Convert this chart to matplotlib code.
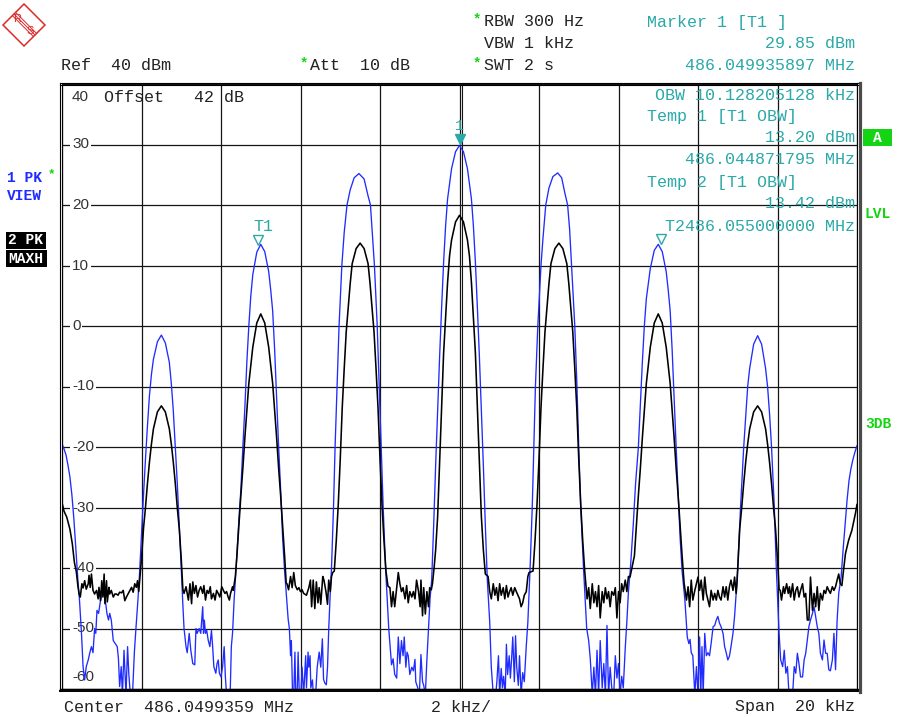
import matplotlib
matplotlib.use("Agg")
import matplotlib.pyplot as plt
import matplotlib.transforms as mtrans
from matplotlib.lines import Line2D
from matplotlib.patches import Rectangle, Polygon

W, H = 900, 717

# analyser settings
center_text = "Center  486.0499359 MHz"
span_text = "Span  20 kHz"
div_text = "2 kHz/"
span_khz = 20
db_ticks = [40, 30, 20, 10, 0, -10, -20, -30, -40, -50, -60]
khz_grid = [-10, -8, -6, -4, -2, 0, 2, 4, 6, 8, 10]
marker_line_khz = 0.06

marker1 = (0.0, 29.85)
temp1 = (-5.064, 13.20)
temp2 = (5.064, 13.42)

header_mid = [("RBW 300 Hz", 22), ("VBW 1 kHz", 44), ("SWT 2 s", 66)]
marker_lines = [
    ("Marker 1 [T1 ]", "left", 22),
    ("29.85 dBm", "right", 44),
    ("486.049935897 MHz", "right", 66),
    ("OBW 10.128205128 kHz", "right", 96),
    ("Temp 1 [T1 OBW]", "left", 117),
    ("13.20 dBm", "right", 138),
    ("486.044871795 MHz", "right", 160),
    ("Temp 2 [T1 OBW]", "left", 182),
    ("13.42 dBm", "right", 203),
    ("T2486.055000000 MHz", "right", 226),
]

# trace 1 (1 PK VIEW, blue): (kHz from center, dBm)
blue_trace = [
    (-10.0, -19.5), (-9.95, -20.3), (-9.9, -21.3), (-9.85, -23.0), (-9.8, -25.0),
    (-9.75, -28.0), (-9.7, -32.0), (-9.65, -37.0), (-9.6, -42.0), (-9.56, -45.3),
    (-9.51, -50.8), (-9.47, -56.3),
    (-9.43, -58.5), (-9.39, -56.3), (-9.34, -55.2), (-9.3, -54.0), (-9.26, -53.0),
    (-9.22, -54.0), (-9.18, -50.0), (-9.15, -50.8), (-9.12, -47.0), (-9.08, -47.5),
    (-9.03, -45.3), (-8.99, -44.2), (-8.95, -43.7), (-8.91, -45.3), (-8.87, -47.5),
    (-8.83, -48.6), (-8.8, -47.5), (-8.76, -48.6), (-8.71, -52.0), (-8.66, -52.5),
    (-8.61, -53.0), (-8.58, -55.0), (-8.55, -59.6), (-8.51, -56.3), (-8.48, -61.0),
    (-8.44, -53.6), (-8.39, -61.0), (-8.35, -53.0), (-8.32, -57.4), (-8.28, -61.0),
    (-8.23, -61.5), (-8.18, -54.0), (-8.14, -50.0), (-8.09, -45.3),
    (-8.05, -41.0), (-8.0, -34.5), (-7.95, -28.0), (-7.9, -22.0), (-7.85, -16.5),
    (-7.8, -11.5), (-7.75, -8.0), (-7.7, -5.5), (-7.6, -2.6), (-7.5, -1.5),
    (-7.4, -2.8), (-7.3, -6.0), (-7.25, -9.5), (-7.2, -14.0), (-7.15, -20.0),
    (-7.1, -26.0), (-7.05, -33.0), (-7.0, -40.0), (-6.96, -46.0),
    (-6.93, -50.0), (-6.88, -53.0), (-6.85, -54.0), (-6.8, -50.8), (-6.76, -53.6),
    (-6.71, -55.8), (-6.66, -56.0), (-6.63, -50.0), (-6.6, -50.8), (-6.55, -50.0),
    (-6.51, -50.8), (-6.46, -46.4), (-6.44, -50.8), (-6.42, -48.6), (-6.39, -50.8),
    (-6.36, -50.3), (-6.32, -52.0), (-6.28, -53.0), (-6.24, -50.3), (-6.21, -53.0),
    (-6.18, -56.3), (-6.13, -57.4), (-6.1, -55.8), (-6.07, -55.2), (-6.04, -57.4),
    (-6.0, -58.0), (-5.96, -56.3), (-5.92, -53.0), (-5.89, -58.0), (-5.86, -61.0),
    (-5.81, -61.0), (-5.77, -61.0), (-5.74, -53.0), (-5.71, -50.8), (-5.67, -45.3),
    (-5.62, -40.0), (-5.55, -32.0), (-5.5, -27.0), (-5.45, -20.0), (-5.4, -13.5),
    (-5.35, -6.0), (-5.3, 0.0), (-5.25, 5.0), (-5.2, 8.5), (-5.1, 12.2),
    (-5.0, 13.5), (-4.9, 12.3), (-4.8, 9.0), (-4.75, 6.0), (-4.7, 2.5),
    (-4.65, -4.0), (-4.6, -12.0), (-4.55, -20.0), (-4.5, -27.0), (-4.45, -35.0),
    (-4.4, -40.5), (-4.35, -45.0), (-4.31, -48.5),
    (-4.28, -50.0), (-4.25, -54.5), (-4.23, -52.0), (-4.2, -61.0), (-4.17, -61.0),
    (-4.14, -53.9), (-4.12, -61.0), (-4.08, -59.8), (-4.06, -53.9), (-4.03, -61.0),
    (-3.99, -61.0), (-3.96, -56.4), (-3.92, -61.0), (-3.87, -54.5), (-3.85, -59.8),
    (-3.81, -53.9), (-3.79, -56.4), (-3.76, -54.5), (-3.74, -59.8), (-3.7, -58.5),
    (-3.68, -60.5), (-3.62, -61.0), (-3.58, -56.4), (-3.53, -53.9), (-3.49, -56.4),
    (-3.45, -51.7), (-3.42, -58.4), (-3.39, -59.0), (-3.35, -59.3), (-3.32, -56.4),
    (-3.29, -50.1), (-3.25, -43.9),
    (-3.22, -40.0), (-3.17, -30.0), (-3.13, -20.0), (-3.08, -10.0), (-3.03, 0.0),
    (-2.96, 10.0), (-2.9, 15.5), (-2.83, 20.0), (-2.75, 22.5), (-2.65, 24.5),
    (-2.53, 25.2), (-2.4, 24.3), (-2.3, 21.5), (-2.24, 20.0), (-2.18, 14.0),
    (-2.14, 10.0), (-2.07, 0.0), (-2.02, -10.0), (-1.97, -20.0), (-1.92, -30.0),
    (-1.86, -40.0), (-1.78, -50.0),
    (-1.71, -56.0), (-1.67, -55.0), (-1.63, -57.6), (-1.58, -58.2), (-1.54, -51.4),
    (-1.5, -55.8), (-1.46, -52.0), (-1.42, -54.5), (-1.39, -51.4), (-1.35, -56.4),
    (-1.32, -53.9), (-1.29, -54.5), (-1.25, -57.6), (-1.2, -56.4), (-1.16, -57.0),
    (-1.12, -55.1), (-1.1, -58.8), (-1.05, -59.8), (-1.01, -61.0), (-0.97, -54.3),
    (-0.93, -58.8), (-0.9, -59.4), (-0.86, -61.0), (-0.82, -55.1), (-0.78, -50.1),
    (-0.74, -45.0),
    (-0.7, -42.0), (-0.65, -33.0), (-0.6, -23.0), (-0.55, -14.0), (-0.5, -5.0),
    (-0.45, 3.0), (-0.4, 10.5), (-0.35, 16.5), (-0.3, 21.0), (-0.2, 26.0),
    (-0.1, 28.8), (0.0, 29.85), (0.1, 28.8), (0.2, 26.0), (0.3, 21.0),
    (0.35, 16.5), (0.4, 10.5), (0.45, 3.0), (0.5, -5.0), (0.55, -14.0),
    (0.6, -23.0), (0.65, -33.0), (0.7, -42.0), (0.76, -48.9),
    (0.8, -56.4), (0.85, -61.0), (0.91, -61.0), (0.94, -58.8), (0.98, -54.5),
    (1.01, -61.0), (1.05, -56.6), (1.08, -59.8), (1.11, -57.9), (1.15, -61.0),
    (1.18, -52.6), (1.21, -57.6), (1.25, -54.5), (1.28, -58.2), (1.31, -55.1),
    (1.34, -51.4), (1.38, -58.8), (1.41, -51.2), (1.44, -56.4), (1.48, -59.4),
    (1.51, -54.5), (1.55, -61.0), (1.59, -57.3), (1.63, -58.8), (1.68, -52.9),
    (1.72, -48.9),
    (1.776, -40.0), (1.83, -30.0), (1.87, -20.0), (1.91, -10.0), (1.97, 0.0),
    (2.05, 10.0), (2.1, 14.5), (2.17, 20.0), (2.25, 22.8), (2.35, 24.7),
    (2.47, 25.3), (2.57, 24.5), (2.65, 22.0), (2.72, 20.0), (2.77, 16.0),
    (2.82, 10.0), (2.86, 5.0), (2.9, 0.0), (2.955, -10.0), (3.0, -20.0),
    (3.05, -30.0), (3.12, -40.0), (3.2, -50.0),
    (3.25, -52.0), (3.29, -55.0), (3.34, -61.0), (3.38, -56.4), (3.42, -61.0),
    (3.46, -53.6), (3.5, -61.0), (3.54, -52.0), (3.59, -59.8), (3.63, -55.8),
    (3.67, -61.0), (3.71, -49.5), (3.75, -61.0), (3.79, -56.4), (3.83, -59.8),
    (3.88, -61.0), (3.92, -54.5), (3.96, -58.2), (4.0, -55.8), (4.04, -61.0),
    (4.08, -57.9), (4.12, -59.8), (4.17, -53.2), (4.21, -48.9), (4.25, -43.9),
    (4.3, -40.0), (4.37, -33.0), (4.43, -26.0), (4.5, -20.0), (4.55, -13.0),
    (4.6, -6.0), (4.65, 0.0), (4.7, 4.5), (4.8, 9.5), (4.9, 12.5),
    (5.0, 13.5), (5.1, 12.3), (5.2, 9.0), (5.25, 6.0), (5.3, 2.5),
    (5.35, -4.0), (5.4, -12.0), (5.45, -20.0), (5.5, -27.5), (5.55, -35.0),
    (5.6, -40.5), (5.67, -45.3),
    (5.73, -51.4), (5.77, -52.5), (5.8, -51.8), (5.83, -54.0), (5.87, -54.5),
    (5.92, -61.0), (5.96, -56.3), (6.0, -61.0), (6.04, -51.4), (6.07, -61.0),
    (6.1, -53.0), (6.13, -61.0), (6.17, -50.8), (6.21, -54.5), (6.25, -54.0),
    (6.29, -54.5), (6.33, -52.5), (6.38, -49.7), (6.42, -49.5), (6.46, -48.6),
    (6.5, -48.0), (6.54, -49.1), (6.58, -49.7), (6.63, -50.8), (6.67, -53.0),
    (6.71, -54.0), (6.75, -55.2), (6.79, -54.6), (6.83, -53.0), (6.88, -50.8),
    (6.92, -48.0), (6.96, -44.2),
    (7.0, -40.0), (7.07, -30.0), (7.15, -20.0), (7.25, -10.0), (7.3, -7.0),
    (7.4, -3.0), (7.5, -1.6), (7.6, -3.0), (7.7, -7.0), (7.75, -10.0),
    (7.8, -14.5), (7.85, -20.0), (7.92, -30.0), (7.97, -40.0), (8.02, -47.5),
    (8.04, -50.8),
    (8.08, -55.2), (8.13, -56.3), (8.17, -53.6), (8.21, -57.4), (8.25, -56.3),
    (8.29, -61.0), (8.33, -61.0), (8.38, -61.0), (8.42, -56.3), (8.46, -57.4),
    (8.5, -54.1), (8.54, -55.8), (8.58, -58.0), (8.63, -58.0), (8.67, -55.2),
    (8.71, -54.1), (8.75, -51.9), (8.79, -49.7), (8.83, -48.6), (8.88, -47.5),
    (8.92, -46.4), (8.96, -48.0), (9.0, -49.7), (9.04, -50.8), (9.08, -54.1),
    (9.13, -55.2), (9.17, -51.9), (9.21, -54.1), (9.25, -54.1), (9.29, -56.8),
    (9.33, -57.0), (9.38, -55.2), (9.42, -50.8), (9.46, -56.8), (9.5, -48.6),
    (9.54, -44.2),
    (9.6, -41.5), (9.65, -37.0), (9.7, -33.0), (9.75, -28.8), (9.8, -25.5),
    (9.85, -23.5), (9.9, -22.0), (9.95, -20.8), (10.0, -19.8),
]

# trace 2 (2 PK MAXH, black)
black_trace = [
    (-10.0, -29.2), (-9.95, -30.6), (-9.88, -31.6), (-9.8, -33.6), (-9.74, -36.0),
    (-9.69, -39.0), (-9.64, -40.6), (-9.6, -43.0),
    (-9.57, -44.3), (-9.54, -44.8), (-9.5, -42.6), (-9.47, -43.3), (-9.43, -42.1),
    (-9.39, -43.5), (-9.34, -42.6), (-9.32, -41.2), (-9.29, -43.2), (-9.26, -41.0),
    (-9.22, -43.7), (-9.18, -44.3), (-9.13, -43.7), (-9.09, -45.1), (-9.07, -43.2),
    (-9.03, -45.4), (-9.0, -42.1), (-8.97, -44.8), (-8.94, -41.0), (-8.92, -45.9),
    (-8.88, -42.1), (-8.86, -45.6), (-8.82, -43.2), (-8.8, -44.3), (-8.76, -43.7),
    (-8.71, -44.8), (-8.67, -44.3), (-8.63, -44.3), (-8.59, -44.5), (-8.55, -44.0),
    (-8.5, -44.1), (-8.46, -43.7), (-8.42, -45.4), (-8.38, -44.8), (-8.34, -44.3),
    (-8.29, -43.7), (-8.25, -43.2), (-8.21, -44.0), (-8.17, -42.6), (-8.13, -43.2),
    (-8.1, -42.1), (-8.07, -43.9),
    (-8.04, -41.5), (-8.0, -38.5), (-7.95, -33.5), (-7.9, -30.0), (-7.85, -26.0),
    (-7.8, -22.5), (-7.75, -19.5), (-7.7, -17.0), (-7.6, -14.2), (-7.5, -13.2),
    (-7.4, -14.2), (-7.3, -17.0), (-7.25, -19.5), (-7.2, -22.5), (-7.15, -26.0),
    (-7.1, -30.0), (-7.05, -33.5), (-7.0, -38.5), (-6.96, -43.5),
    (-6.93, -44.2), (-6.88, -43.1), (-6.82, -45.3), (-6.78, -42.6), (-6.74, -45.9),
    (-6.71, -42.3), (-6.67, -44.2), (-6.63, -42.9), (-6.59, -44.8), (-6.55, -43.7),
    (-6.51, -43.1), (-6.46, -44.2), (-6.43, -42.9), (-6.39, -45.3), (-6.35, -43.7),
    (-6.31, -44.2), (-6.27, -43.1), (-6.24, -45.1), (-6.19, -44.2), (-6.15, -45.3),
    (-6.11, -43.7), (-6.07, -44.2), (-6.03, -44.8), (-5.98, -43.1), (-5.94, -43.7),
    (-5.9, -44.2), (-5.86, -43.9), (-5.82, -44.8), (-5.79, -45.3), (-5.76, -44.2),
    (-5.71, -43.1), (-5.69, -43.7), (-5.66, -42.3),
    (-5.64, -41.5), (-5.6, -38.0), (-5.55, -33.0), (-5.5, -28.0), (-5.45, -23.5),
    (-5.4, -18.5), (-5.35, -14.0), (-5.3, -9.5), (-5.25, -6.5), (-5.2, -3.5),
    (-5.1, 0.5), (-5.0, 2.0), (-4.9, 0.5), (-4.8, -3.5), (-4.75, -6.5),
    (-4.7, -9.5), (-4.65, -14.0), (-4.6, -18.5), (-4.55, -23.5), (-4.5, -28.0),
    (-4.45, -33.0), (-4.4, -38.0), (-4.36, -42.5),
    (-4.34, -42.6), (-4.3, -43.6), (-4.25, -41.4), (-4.21, -43.25), (-4.17, -40.75),
    (-4.13, -42.9), (-4.08, -43.6), (-4.04, -43.25), (-4.0, -43.9), (-3.96, -43.6),
    (-3.92, -44.2), (-3.85, -44.5), (-3.79, -43.25), (-3.75, -42.0), (-3.72, -46.4),
    (-3.68, -42.0), (-3.64, -46.7), (-3.6, -42.3), (-3.56, -45.75), (-3.53, -43.25),
    (-3.49, -46.0), (-3.44, -41.4), (-3.41, -42.0), (-3.36, -43.9), (-3.32, -46.0),
    (-3.29, -42.0), (-3.25, -43.9), (-3.22, -41.4), (-3.19, -40.75),
    (-3.15, -40.5), (-3.1, -35.5), (-3.05, -29.5), (-3.0, -22.0), (-2.95, -13.5),
    (-2.9, -7.0), (-2.85, -1.0), (-2.8, 3.0), (-2.75, 7.0), (-2.7, 10.3),
    (-2.6, 12.8), (-2.5, 13.7), (-2.4, 12.8), (-2.3, 10.3), (-2.25, 7.0),
    (-2.2, 3.0), (-2.15, -1.0), (-2.1, -7.0), (-2.05, -13.5), (-2.0, -22.0),
    (-1.95, -29.5), (-1.9, -35.5), (-1.85, -40.5),
    (-1.8, -43.0), (-1.75, -43.25), (-1.71, -46.4), (-1.67, -43.9), (-1.63, -46.4),
    (-1.58, -43.25), (-1.54, -40.75), (-1.5, -42.6), (-1.46, -43.9), (-1.42, -43.25),
    (-1.37, -45.1), (-1.33, -42.9), (-1.29, -45.75), (-1.25, -43.9), (-1.2, -44.8),
    (-1.16, -43.9), (-1.12, -45.1), (-1.08, -42.0), (-1.03, -43.9), (-0.99, -46.4),
    (-0.97, -42.0), (-0.93, -47.9), (-0.9, -43.25), (-0.86, -47.6), (-0.82, -43.9),
    (-0.78, -46.4), (-0.75, -43.25), (-0.71, -43.6), (-0.68, -42.6),
    (-0.64, -40.0), (-0.6, -37.0), (-0.55, -31.5), (-0.5, -22.5), (-0.45, -13.5),
    (-0.4, -4.5), (-0.35, 1.5), (-0.3, 7.2), (-0.25, 11.6), (-0.2, 14.2),
    (-0.1, 17.2), (0.0, 18.3), (0.1, 17.2), (0.2, 14.2), (0.25, 11.6),
    (0.3, 7.2), (0.35, 1.5), (0.4, -4.5), (0.45, -13.5), (0.5, -22.5),
    (0.55, -31.5), (0.6, -37.0), (0.65, -41.0),
    (0.72, -41.4), (0.76, -43.9), (0.8, -45.1), (0.85, -42.6), (0.89, -44.5),
    (0.93, -43.25), (0.97, -45.4), (1.01, -42.6), (1.05, -44.5), (1.1, -43.25),
    (1.14, -45.1), (1.18, -42.9), (1.22, -44.8), (1.26, -43.9), (1.3, -43.25),
    (1.34, -44.5), (1.39, -43.25), (1.43, -43.9), (1.47, -44.5), (1.51, -45.1),
    (1.55, -46.4), (1.59, -45.75), (1.63, -44.5), (1.68, -43.9), (1.72, -41.4),
    (1.75, -40.75),
    (1.85, -40.5), (1.9, -35.5), (1.95, -29.5), (2.0, -22.0), (2.05, -13.5),
    (2.1, -7.0), (2.15, -1.0), (2.2, 3.0), (2.25, 7.0), (2.3, 10.3),
    (2.4, 12.8), (2.5, 13.7), (2.6, 12.8), (2.7, 10.3), (2.75, 7.0),
    (2.8, 3.0), (2.85, -1.0), (2.9, -7.0), (2.95, -13.5), (3.0, -22.0),
    (3.05, -29.5), (3.1, -35.5), (3.15, -40.5),
    (3.21, -45.1), (3.25, -43.25), (3.29, -46.7), (3.34, -42.6), (3.38, -45.75),
    (3.42, -43.9), (3.46, -46.4), (3.5, -42.9), (3.54, -48.25), (3.59, -43.9),
    (3.63, -45.75), (3.67, -43.25), (3.71, -45.1), (3.75, -43.9), (3.79, -46.4),
    (3.83, -43.9), (3.88, -44.5), (3.92, -43.25), (3.96, -48.25), (4.0, -43.9),
    (4.04, -45.75), (4.08, -42.6), (4.12, -43.9), (4.17, -42.0), (4.21, -43.9),
    (4.25, -41.4), (4.29, -41.5),
    (4.4, -38.0), (4.45, -33.0), (4.5, -28.0), (4.55, -23.5), (4.6, -18.5),
    (4.65, -14.0), (4.7, -9.5), (4.75, -6.5), (4.8, -3.5), (4.9, 0.5),
    (5.0, 2.0), (5.1, 0.5), (5.2, -3.5), (5.25, -6.5), (5.3, -9.5),
    (5.35, -14.0), (5.4, -18.5), (5.45, -23.5), (5.5, -28.0), (5.55, -33.0),
    (5.6, -38.0), (5.65, -42.5),
    (5.71, -45.3), (5.75, -43.1), (5.79, -46.4), (5.83, -42.0), (5.87, -45.3),
    (5.92, -43.7), (5.96, -42.6), (6.0, -41.5), (6.04, -43.7), (6.08, -42.0),
    (6.13, -45.3), (6.17, -41.5), (6.21, -44.2), (6.25, -45.3), (6.29, -46.4),
    (6.33, -43.7), (6.38, -45.3), (6.42, -44.2), (6.46, -45.3), (6.5, -43.7),
    (6.54, -44.8), (6.58, -45.3), (6.63, -43.1), (6.67, -44.8), (6.71, -43.1),
    (6.75, -45.3), (6.79, -43.1), (6.83, -42.0), (6.88, -43.7), (6.92, -41.5),
    (6.96, -44.2), (6.98, -42.6),
    (7.0, -40.0), (7.05, -33.5), (7.1, -30.0), (7.15, -26.0), (7.2, -22.5),
    (7.25, -19.5), (7.3, -17.0), (7.4, -14.2), (7.5, -13.2), (7.6, -14.2),
    (7.7, -17.0), (7.75, -19.5), (7.8, -22.5), (7.85, -26.0), (7.9, -30.0),
    (7.95, -33.5), (8.0, -38.5), (8.04, -43.5),
    (8.07, -43.7), (8.1, -45.3), (8.15, -43.1), (8.18, -44.2), (8.23, -42.6),
    (8.27, -44.2), (8.3, -43.1), (8.33, -44.8), (8.38, -42.6), (8.42, -45.3),
    (8.46, -43.7), (8.5, -43.1), (8.54, -44.8), (8.58, -43.7), (8.63, -42.6),
    (8.67, -44.8), (8.71, -44.2), (8.75, -48.6), (8.79, -48.6), (8.83, -41.5),
    (8.88, -47.0), (8.92, -44.2), (8.96, -46.4), (9.0, -43.1), (9.04, -47.0),
    (9.08, -44.2), (9.13, -45.3), (9.17, -43.7), (9.21, -44.2), (9.25, -43.1),
    (9.29, -43.7), (9.33, -44.2), (9.38, -43.1), (9.42, -43.7), (9.46, -43.1),
    (9.5, -42.0), (9.54, -41.0), (9.58, -42.6),
    (9.62, -42.9), (9.65, -41.0), (9.71, -37.6), (9.79, -35.4), (9.87, -33.8),
    (9.96, -31.0), (10.0, -29.5),
]

MONO = "Liberation Mono"
TEAL = "#2ba8a8"
GREEN = "#14d414"
BLUE = "#1f2bff"
INK = "#222222"

fig = plt.figure(figsize=(W / 100, H / 100), dpi=100)
fig.patch.set_facecolor("white")


def fx(x):
    return x / W


def fy(y):
    return 1 - y / H


def ftext(x, y, s, **kw):
    kw.setdefault("family", MONO)
    kw.setdefault("fontsize", 12)
    kw.setdefault("va", "center")
    kw.setdefault("color", INK)
    fig.text(fx(x), fy(y), s, **kw)


def fline(x0, y0, x1, y1, **kw):
    fig.add_artist(Line2D([fx(x0), fx(x1)], [fy(y0), fy(y1)],
                          transform=fig.transFigure, **kw))


def fbox(x0, y0, x1, y1, color):
    fig.add_artist(Rectangle((fx(x0), fy(y1)), (x1 - x0) / W, (y1 - y0) / H,
                             transform=fig.transFigure, fc=color, ec="none"))


ax = fig.add_axes([fx(62), fy(689), 795 / W, 605 / H])
ax.set_xlim(-span_khz / 2, span_khz / 2)
ax.set_ylim(db_ticks[-1], db_ticks[0])
ax.set_axis_off()

for f in khz_grid:
    ax.axvline(f, color="#151515", lw=0.9, zorder=1)
ax.axvline(marker_line_khz, color="#151515", lw=0.8, zorder=1)
for v in db_ticks:
    ax.axhline(v, color="#151515", lw=0.9, zorder=1)

# y labels sit inside the grid, left aligned
for v in db_ticks:
    dy = 0
    if v == db_ticks[0]:
        dy = -13
    elif v == db_ticks[-1]:
        dy = 12
    ax.annotate(str(v), xy=(khz_grid[0], v), xytext=(10, dy),
                textcoords="offset pixels", ha="left", va="center",
                family="Liberation Sans", fontsize=11, color="#333333",
                bbox=dict(boxstyle="square,pad=0.1", fc="white", ec="none"),
                zorder=2)

bf, bl = zip(*blue_trace)
kf, kl = zip(*black_trace)
ax.plot(bf, bl, color=BLUE, lw=0.95, zorder=3)
ax.plot(kf, kl, color="black", lw=1.15, zorder=4)

# markers
up = mtrans.ScaledTranslation(0, 6 / 100, fig.dpi_scale_trans)
ax.plot([marker1[0]], [marker1[1]], marker="v", ms=7.5, color=TEAL,
        transform=ax.transData + up, zorder=5, clip_on=False)
ax.plot([temp1[0], temp2[0]], [temp1[1], temp2[1]], ls="none", marker="v",
        ms=7.5, mfc="none", mec=TEAL, mew=1.0,
        transform=ax.transData + up, zorder=5, clip_on=False)
ax.annotate("1", xy=marker1, xytext=(0, 19), textcoords="offset pixels",
            ha="center", va="center", family=MONO, fontsize=11, color=TEAL)
ax.annotate("T1", xy=temp1, xytext=(5, 20), textcoords="offset pixels",
            ha="center", va="center", family=MONO, fontsize=12, color=TEAL)

# frame
fline(60, 82.5, 860, 82.5, color="black", lw=0.8)
fline(60, 85, 858, 85, color="black", lw=0.8)
fline(60, 82.5, 60, 691, color="black", lw=0.8)
fline(62.3, 85, 62.3, 689, color="black", lw=0.8)
fline(60, 688.5, 860, 688.5, color="black", lw=1.0)
fline(60, 691, 861, 691, color="black", lw=1.4)
fline(857, 82.5, 857, 691, color="black", lw=0.8)
fline(859.6, 82.5, 859.6, 692, color="#4a4a4a", lw=2.3)

# header
ftext(61, 66, "Ref  40 dBm")
ftext(300, 63, "*", color=GREEN, fontsize=10, weight="bold")
ftext(310, 66, "Att  10 dB")
for s, y in header_mid:
    ftext(484, y, s)
ftext(473, 19, "*", color=GREEN, fontsize=10, weight="bold")
ftext(473, 63, "*", color=GREEN, fontsize=10, weight="bold")
ftext(104, 97, "Offset   42 dB")

for s, side, y in marker_lines:
    if side == "left":
        ftext(647, y, s, color=TEAL)
    else:
        ftext(855, y, s, color=TEAL, ha="right")

# left trace labels
ftext(7, 178, "1 PK", color=BLUE, fontsize=10.5, weight="bold")
ftext(48, 174, "*", color=GREEN, fontsize=9, weight="bold")
ftext(7, 196, "VIEW", color=BLUE, fontsize=10.5, weight="bold")
fbox(6, 232, 46, 249, "black")
ftext(8, 240.5, "2 PK", color="white", fontsize=10.5, weight="bold")
fbox(6, 250, 47, 267, "black")
ftext(8, 258.5, "MAXH", color="white", fontsize=10.5, weight="bold")

# right side labels
fbox(863, 129, 892, 146, GREEN)
ftext(877.5, 137.5, "A", color="white", fontsize=10.5, weight="bold", ha="center")
ftext(865, 214, "LVL", color=GREEN, fontsize=10.5, weight="bold")
ftext(865, 424, "3DB", color=GREEN, fontsize=10.5, weight="bold")

# footer
ftext(64, 707, center_text)
ftext(461, 707, div_text, ha="center")
ftext(855, 707, span_text, ha="right")

# R&S logo
red = "#dd2a2a"
fig.add_artist(Polygon([(fx(24), fy(4)), (fx(45), fy(25)), (fx(24), fy(46)), (fx(3), fy(25))],
                       closed=True, fill=False, ec=red, lw=1.1, transform=fig.transFigure))
for d in (-1.6, 0, 1.6):
    fline(14 + d, 14 - d, 35 + d, 35 - d, color=red, lw=0.7)
ftext(17, 19, "R", color=red, fontsize=8, family="Liberation Sans", ha="center")
ftext(30, 31, "S", color=red, fontsize=8, family="Liberation Sans", ha="center")

fig.savefig("out.png", dpi=100)
